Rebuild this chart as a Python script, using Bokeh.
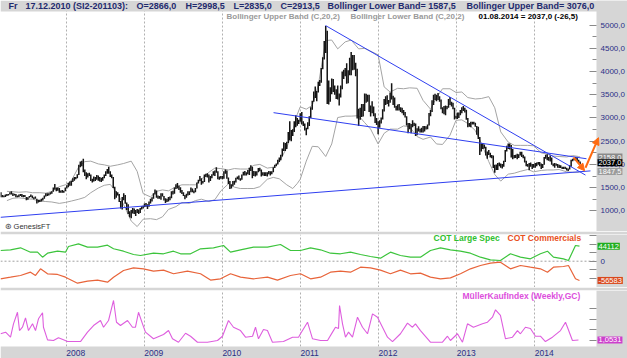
import pandas as pd
from bokeh.plotting import figure
from bokeh.models import Range1d, FixedTicker, Label, Arrow, NormalHead, Grid, Span, BoxAnnotation
from bokeh.layouts import column
from bokeh.embed import file_html
from bokeh.resources import INLINE

# ---------------- data ----------------
WEEK_START = "2007-03-02"   # weekly bars (Fridays)

H07 = [1400,1340,1330,1350,1360, 1360,1400,1420,1380, 1370,1360,1330,1350, 1360,1360,1340,1340,1300,
       1290,1320,1350,1330, 1290,1310,1260,1240,1240, 1260,1280,1330,1380, 1380,1380,1400,1420,
       1500,1580,1500,1500,1490, 1440,1450,1430,1500]
L07 = [1290,1290,1290,1300,1320, 1330,1350,1350,1320, 1330,1290,1290,1300, 1320,1300,1290,1300,1230,
       1240,1280,1300,1270, 1250,1260,1160,1180,1190, 1200,1220,1260,1310, 1320,1330,1350,1370,
       1410,1460,1420,1430,1390, 1390,1390,1390,1420]
H08 = [1550,1600,1630,1650, 1700,1730,1730,1790,1990, 2060,2080,2120,1890, 1830,1810,1820,1780,
       1690,1740,1730,1770,1760, 1730,1710,1730,1780, 1850,1900,1950,1850, 1780,1730,1520,1420,1400,
       1360,1210,1300,1380, 1340,1180,1140,990,1020, 1060,1050,1020,1040, 1030,1060,1100,1110]
L08 = [1480,1510,1540,1540, 1620,1650,1680,1700,1770, 1940,1960,1830,1750, 1680,1720,1750,1640,
       1610,1630,1640,1670,1650, 1630,1620,1650,1700, 1750,1800,1800,1730, 1700,1490,1250,1280,1330,
       1190,1050,1030,1230, 1150,1020,930,860,840, 940,930,890,950, 930,950,1030,1050]
H09 = [1160,1170,1140,1200,1260, 1290,1380,1460,1440, 1330,1320,1380,1380, 1320,1270,1260,1300,
       1310,1420,1430,1500,1570, 1600,1540,1510,1450, 1400,1340,1370,1420,1420, 1500,1480,1440,1490,
       1610,1670,1750,1700, 1640,1780,1800,1810,1780, 1750,1790,1850,1870, 1940,1850,1740,1750]
L09 = [1080,1090,1040,1090,1160, 1200,1260,1350,1280, 1260,1260,1240,1310, 1220,1170,1190,1200,
       1230,1270,1350,1370,1470, 1480,1450,1390,1360, 1320,1250,1280,1330,1340, 1400,1400,1380,1400,
       1480,1590,1640,1560, 1590,1620,1730,1720,1610, 1640,1700,1760,1750, 1820,1680,1670,1690]
H10 = [1750,1850,1890,1870,1720, 1640,1570,1640,1650, 1710,1740,1760,1700, 1780,1840,1860,1830,1880,
       1930,1980,1950,1860, 1850,1850,1920,1930, 1890,1830,1830,1830,1830, 1860,1850,1850,1940,
       1990,2020,2100,2150, 2210,2340,2480,2460,2490, 2700,2930,2740,2760, 2930,3060,2999,2960,3100]
L10 = [1680,1690,1800,1690,1580, 1470,1480,1530,1560, 1610,1680,1670,1650, 1670,1760,1760,1760,1790,
       1770,1860,1700,1750, 1740,1760,1830,1850, 1740,1760,1750,1750,1740, 1790,1760,1790,1830,
       1920,1960,2000,2050, 2090,2170,2290,2290,2330, 2460,2520,2500,2610, 2700,2800,2835,2870,2920]
H11 = [3130,2930,2880,2790, 2910,3040,3230,3370, 3570,3680,3580,3780, 3820,4080,4310,4660,4980,
       4880,3810,3660,3850, 3840,3700,3620,3700, 3530,3700,4000,4040,4080, 4180,4030,4300,4420,
       4360,4360,4190,4060,3200, 3220,3300,3300,3530, 3520,3500,3500,3270, 3360,3250,3100,3000,2930]
L11 = [2860,2830,2730,2630, 2760,2830,3000,3180, 3350,3430,3360,3550, 3690,3760,4050,4260,4400,
       3300,3290,3350,3510, 3560,3500,3410,3400, 3270,3440,3620,3840,3900, 3740,3750,3920,3920,
       4030,4040,3900,2990,2830, 2960,3020,3030,3150, 3330,3350,3130,3030, 3100,3040,2890,2850,2650]
H12 = [2950,3010,3190,3410, 3470,3490,3390,3550, 3750,3480,3440,3260,3290, 3300,3230,3220,3170,
       3130,3040,2890,2890, 2870,2950,2900,2880,2780, 2820,2770,2790,2830, 2830,2820,2860,3110,3180,
       3380,3500,3520,3500, 3540,3470,3400,3230, 3260,3270,3260,3410,3450, 3350,3330,3220,3050]
L12 = [2790,2880,2970,3140, 3280,3300,3250,3330, 3400,3280,3220,3160,3160, 3160,3130,3100,3060,
       3010,2840,2670,2760, 2670,2800,2830,2610,2630, 2710,2690,2690,2690, 2710,2750,2760,2840,3040,
       3130,3280,3390,3360, 3390,3350,3190,3100, 3080,3060,3190,3220,3280, 3250,3190,2970,2990]
H13 = [3120,3120,3170,3230, 3260,3220,3180,3000, 2890,2920,2920,2920,2900, 2830,2810,2590,2450,
       2460,2430,2380,2280,2310, 2250,2200,2190,1990, 2000,2030,2040,2020, 2010,2080,2310,2400,2450,
       2450,2420,2330,2200, 2210,2230,2220,2270, 2270,2210,2170,2080,2010, 2030,2040,2010,2010]
L13 = [2980,3000,3060,3100, 3150,3120,2960,2800, 2810,2800,2860,2860,2810, 2640,2550,2200,2280,
       2330,2340,2190,2120,2200, 2150,2130,1920,1820, 1880,1880,1960,1930, 1910,1950,2050,2280,2330,
       2320,2150,2110,2130, 2140,2110,2140,2190, 2160,2130,2040,1960,1950, 1880,1950,1900,1930]
H14 = [2030,2040,2050,2050,2020, 2010,2160,2210,2220, 2160,2190,2150,2020, 2030,2020,2010,1990,
       1980,1950,1950,1950,1930, 1910,1980,2100,2120, 2140,2160,2160,2100, 2060]
L14 = [1930,1960,1990,1960,1900, 1920,1990,2120,2090, 2080,2060,1990,1960, 1930,1970,1930,1920,
       1920,1900,1900,1900,1870, 1860,1890,1950,2070, 2090,2080,2070,2030, 2010]

HIGH = H07 + H08 + H09 + H10 + H11 + H12 + H13 + H14
LOW = L07 + L08 + L09 + L10 + L11 + L12 + L13 + L14

BB_DATES = ["2007-03-30","2007-04-27","2007-05-25","2007-06-29","2007-07-27","2007-08-31","2007-09-28","2007-10-26","2007-11-30","2007-12-28",
            "2008-01-25","2008-02-29","2008-03-28","2008-04-25","2008-05-30","2008-06-27","2008-07-25","2008-08-29","2008-09-26","2008-10-31","2008-11-28","2008-12-26",
            "2009-01-30","2009-02-27","2009-03-27","2009-04-24","2009-05-29","2009-06-26","2009-07-31","2009-08-28","2009-09-25","2009-10-30","2009-11-27","2009-12-25",
            "2010-01-29","2010-02-26","2010-03-26","2010-04-30","2010-05-28","2010-06-25","2010-07-30","2010-08-27","2010-09-24","2010-10-29","2010-11-26","2010-12-17","2010-12-31",
            "2011-01-28","2011-02-25","2011-03-25","2011-04-29","2011-05-27","2011-06-24","2011-07-29","2011-08-26","2011-09-30","2011-10-28","2011-11-25","2011-12-30",
            "2012-01-27","2012-02-24","2012-03-30","2012-04-27","2012-05-25","2012-06-29","2012-07-27","2012-08-31","2012-09-28","2012-10-26","2012-11-30","2012-12-28",
            "2013-01-25","2013-02-22","2013-03-29","2013-04-26","2013-05-31","2013-06-28","2013-07-26","2013-08-30","2013-09-27","2013-10-25","2013-11-29","2013-12-27",
            "2014-01-31","2014-02-28","2014-03-28","2014-04-25","2014-05-30","2014-06-27","2014-07-25","2014-08-01"]
BB_UPPER = [1420,1410,1400,1410,1390,1390,1380,1420,1520,1560,
            1650,1950,2060,2070,2010,1990,1960,1990,2020,2070,1850,1370,
            1300,1420,1450,1430,1520,1560,1560,1560,1680,1830,1920,1910,
            1880,1910,1900,1900,1980,2000,1920,1940,2050,2360,2720,3076,3240,
            3190,3270,3700,4670,4680,4490,4640,4680,4490,4500,4440,4360,
            3670,3560,3640,3630,3650,3640,3380,3190,3440,3630,3630,3550,
            3560,3440,3410,3420,3460,3220,2700,2480,2410,2410,2410,2400,
            2250,2220,2180,2170,2160,2190,2170,2158]
BB_LOWER = [1220,1270,1280,1260,1250,1210,1200,1190,1160,1180,
            1210,1250,1290,1390,1490,1550,1570,1360,1130,780,660,820,
            830,810,870,1030,1090,1180,1160,1220,1250,1200,1240,1430,
            1580,1510,1480,1480,1480,1520,1680,1720,1690,1560,1480,1588,1680,
            2070,2390,2380,2170,2440,3010,3040,3040,3050,2900,2760,2440,
            2670,2760,2760,2830,2810,2600,2540,2590,2440,2430,2630,2950,
            2960,2880,2730,2460,2060,1780,1640,1790,1810,1850,1890,1840,
            1870,1880,1880,1890,1840,1830,1830,1848]

# trend lines (decimal year, price)
TREND_T0 = [2007.159, 2011.320, 2010.655]
TREND_P0 = [860, 4993, 3115]
TREND_T1 = [2014.713, 2014.649, 2014.662]
TREND_P1 = [1860, 1770, 2122]
# orange forecast arrows
ARROW_T0 = [2014.497, 2014.649]
ARROW_P0 = [2150, 1928]
ARROW_T1 = [2014.638, 2014.816]
ARROW_P1 = [1863, 2576]

PRICE_TICKS = [1000, 1500, 2000, 2500, 3000, 3500, 4000, 4500, 5000]
PRICE_TICK_LABELS = ["1000,0", "1500,0", "2000,0", "2500,0", "3000,0", "3500,0", "4000,0", "4500,0", "5000,0"]
PRICE_BOXES = [("2158,0", 2158, "#8a8a8a"), ("1847,5", 1847.5, "#9c9c9c"), ("2037,0", 2037, "#000000")]
LAST_DATE = 2014.790   # right edge of the data area (decimal year)

SPEC_T = [2007.159,2007.287,2007.415,2007.543,2007.633,2007.697,2007.761,2007.889,2007.991,2008.029,2008.157,
          2008.273,2008.401,2008.529,2008.606,2008.734,2008.862,2008.951,2009.118,2009.246,2009.374,2009.464,
          2009.592,2009.720,2009.886,2010.014,2010.104,2010.232,2010.398,2010.577,2010.744,2010.872,2011.000,
          2011.128,2011.256,2011.384,2011.512,2011.640,2011.768,2011.896,2012.024,2012.152,2012.280,2012.408,
          2012.536,2012.664,2012.792,2012.920,2013.048,2013.176,2013.304,2013.432,2013.560,2013.688,2013.816,
          2013.944,2014.072,2014.162,2014.239,2014.367,2014.431,2014.521,2014.572]
SPEC = [31500,33500,39400,26500,26500,11800,23500,29400,26500,43200,51100,
        41200,41200,47000,36500,29400,19700,16800,23500,21800,29400,21800,
        21800,36500,39400,46200,26500,33500,41200,41200,49100,31500,31500,
        39400,33500,23500,21800,26500,19700,13800,8900,26500,16800,11800,
        11800,31500,39400,33500,29400,23500,11800,4000,2000,21800,11800,
        7000,21800,29400,11800,7000,2000,46200,44112]
COMM_T = [2007.159,2007.287,2007.415,2007.543,2007.607,2007.671,2007.761,2007.889,2007.991,2008.029,2008.145,
          2008.273,2008.401,2008.529,2008.606,2008.734,2008.862,2008.990,2009.118,2009.246,2009.374,2009.553,
          2009.720,2009.848,2009.976,2010.104,2010.232,2010.398,2010.577,2010.705,2010.872,2011.000,2011.128,
          2011.256,2011.384,2011.512,2011.640,2011.768,2011.896,2012.024,2012.152,2012.280,2012.408,2012.536,
          2012.664,2012.792,2012.920,2013.048,2013.176,2013.304,2013.432,2013.560,2013.688,2013.816,2013.944,
          2014.072,2014.162,2014.239,2014.367,2014.431,2014.521,2014.572]
COMM = [-51800,-47000,-42000,-32300,-42000,-22400,-37000,-39000,-47000,-51800,-64700,
        -58800,-55600,-61800,-47000,-27400,-19500,-22400,-29400,-26400,-37000,-29400,
        -37000,-55600,-51800,-37000,-47000,-51800,-47000,-55600,-42000,-37000,-51800,
        -47000,-32300,-29400,-32300,-17600,-19500,-26400,-37000,-26400,-37000,-35000,
        -47000,-51800,-49000,-37000,-22400,-12700,-5900,-3000,-22400,-12700,-17600,
        -22400,-32300,-17600,-15600,-12700,-51800,-56583]
COT_TICKS = [-50000, -25000, 0, 25000, 50000, 75000]
COT_TICK_LABELS = ["", "", "0", "", "", ""]
COT_BOXES = [("44112", 44112, "#1fae1f"), ("-56583", -56583, "#d9481c")]

MKI_T = [2007.159,2007.224,2007.287,2007.325,2007.376,2007.402,2007.440,2007.479,2007.517,2007.569,2007.607,
         2007.645,2007.697,2007.709,2007.761,2007.837,2007.901,2007.965,2008.017,2008.183,2008.273,2008.350,
         2008.439,2008.478,2008.542,2008.606,2008.644,2008.695,2008.785,2008.849,2008.887,2008.926,2008.977,
         2009.015,2009.118,2009.246,2009.310,2009.361,2009.438,2009.528,2009.592,2009.681,2009.809,2009.937,
         2010.001,2010.078,2010.142,2010.232,2010.296,2010.386,2010.424,2010.462,2010.526,2010.577,2010.641,
         2010.782,2010.898,2010.975,2011.000,2011.090,2011.154,2011.256,2011.346,2011.410,2011.448,2011.487,
         2011.500,2011.538,2011.576,2011.615,2011.666,2011.730,2011.794,2011.858,2011.922,2011.986,2012.050,
         2012.114,2012.178,2012.280,2012.370,2012.434,2012.472,2012.536,2012.664,2012.818,2012.882,2012.920,
         2013.010,2013.074,2013.138,2013.214,2013.330,2013.394,2013.458,2013.497,2013.560,2013.625,2013.714,
         2013.778,2013.816,2013.880,2013.944,2014.008,2014.072,2014.136,2014.226,2014.329,2014.393,2014.418,
         2014.482,2014.559]
MKI = [1.63,1.78,1.31,2.56,3.64,1.93,2.24,3.12,1.93,2.56,1.93,
       3.03,3.59,2.24,1.06,1.00,1.25,1.06,0.90,0.90,1.78,2.40,
       2.87,2.24,2.87,4.74,2.71,2.40,2.87,2.24,2.24,3.64,2.56,
       1.78,1.16,1.56,1.93,1.16,0.84,1.68,1.40,0.84,0.84,1.00,
       1.40,2.87,2.24,1.93,1.31,1.40,2.24,1.16,2.02,1.93,0.84,
       0.90,1.31,1.31,1.63,2.71,1.16,1.00,1.00,1.78,2.24,2.12,
       4.27,2.56,1.31,1.78,1.31,3.18,2.24,1.63,3.49,3.18,2.24,
       1.31,0.90,1.63,2.62,2.24,2.56,1.93,0.84,0.84,1.40,1.00,
       1.63,0.84,2.56,2.24,2.56,2.71,3.18,3.87,3.34,1.16,1.31,
       1.93,1.63,2.24,2.12,1.40,1.40,0.90,1.31,1.93,2.71,2.24,
       1.00,1.0531]
MKI_TICKS = [1, 2, 3, 4]
MKI_BOXES = [("1,0531", 1.0531, "#cc3fcc")]

YEARS = [2008, 2009, 2010, 2011, 2012, 2013, 2014]
YEAR_LABELS = ["2008", "2009", "2010", "2011", "2012", "2013", "2014"]

HEADER_TEXTS = ["Fr", "17.12.2010 (SI2-201103):", "O=2866,0", "H=2998,5", "L=2835,0", "C=2913,5",
                "Bollinger Lower Band= 1587,5", "Bollinger Upper Band= 3076,0"]
SUB_TEXTS = ["Bollinger Upper Band (C,20,2)", "Bollinger Lower Band (C,20,2)", "01.08.2014 = 2037,0 (-26,5)"]
COT_NAMES = ["COT Large Spec", "COT Commercials"]
MKI_NAME = "MüllerKaufIndex (Weekly,GC)"
CREDIT = "\u229b GenesisFT"

# ---------------- helpers ----------------
def to_year(dates):
    d = pd.DatetimeIndex(dates)
    return (d.year + (d.dayofyear - 1) / 365.25).to_numpy()

week_t = to_year(pd.date_range(WEEK_START, periods=len(HIGH), freq="W-FRI"))
bb_t = to_year(BB_DATES)

FONT = "Liberation Sans"
GRAY = "#d6d6d6"
NAVY = "#2b2f86"
W = 627
STRIP_X = 596          # screen x where the grey value strip starts
x_range = Range1d(2007.1588, 2015.187)


def make_fig(frame_h, y_range, top):
    p = figure(frame_width=W, frame_height=frame_h, x_range=x_range, y_range=y_range,
               x_axis_location=None, y_axis_location="right",
               toolbar_location=None, output_backend="svg",
               min_border_left=0, min_border_right=0, min_border_top=top, min_border_bottom=0,
               background_fill_color="white", border_fill_color=GRAY, outline_line_color=None)
    p.grid.visible = False
    p.add_layout(Grid(dimension=0, ticker=FixedTicker(ticks=YEARS),
                      grid_line_color="#b0b0b0", grid_line_dash="2 2"))
    ax = p.yaxis[0]
    ax.fixed_location = LAST_DATE
    ax.axis_line_color = None
    ax.major_tick_in = 7
    ax.major_tick_out = 0
    ax.minor_tick_in = 4
    ax.minor_tick_out = 0
    ax.major_tick_line_color = "#8a8a8a"
    ax.minor_tick_line_color = "#8a8a8a"
    ax.major_label_text_font = FONT
    ax.major_label_text_font_size = "8px"
    ax.major_label_text_color = NAVY
    ax.major_label_standoff = 4
    return p


def strip(p, **kw):
    p.add_layout(BoxAnnotation(fill_color=GRAY, fill_alpha=1.0, line_color=None, level="underlay", **kw))


def label(p, text, x, y, color, size="9px", bold=True, xu="screen", yu="screen", bg=None):
    kw = dict(x=x, y=y, x_units=xu, y_units=yu, text=text,
              text_font=FONT, text_font_size=size, text_color=color,
              text_font_style="bold" if bold else "normal",
              text_align="left", text_baseline="middle")
    if bg is not None:
        kw.update(background_fill_color=bg, background_fill_alpha=1.0, padding=1)
    p.add_layout(Label(**kw))


# ---------------- price panel ----------------
P_FH = 231
p1 = make_fig(P_FH, Range1d(554, 5532), 0)
ax1 = p1.yaxis[0]
ax1.ticker = FixedTicker(ticks=PRICE_TICKS, minor_ticks=[t + 250 for t in PRICE_TICKS[:-1]])
ax1.major_label_overrides = dict(zip(PRICE_TICKS, PRICE_TICK_LABELS))
strip(p1, left=STRIP_X, left_units="screen")
strip(p1, bottom=P_FH - 11, bottom_units="screen")

p1.line(bb_t, BB_UPPER, line_color="#a4a4a4", line_width=1)
p1.line(bb_t, BB_LOWER, line_color="#a4a4a4", line_width=1)
p1.segment(x0=week_t, y0=LOW, x1=week_t, y1=HIGH, line_color="#151515", line_width=1.5)
p1.segment(x0=TREND_T0, y0=TREND_P0, x1=TREND_T1, y1=TREND_P1, line_color="#2f3ff0", line_width=1)
for i in range(len(ARROW_T0)):
    p1.add_layout(Arrow(x_start=ARROW_T0[i], y_start=ARROW_P0[i], x_end=ARROW_T1[i], y_end=ARROW_P1[i],
                        line_color="#ff6a10", line_width=2,
                        end=NormalHead(size=7, fill_color="#ff6a10", line_color="#ff6a10")))

hx = [8, 25, 136, 185, 233, 280, 327, 466]
for t, x in zip(HEADER_TEXTS, hx):
    label(p1, t, x, P_FH - 5.5, "#1f2a6e", size="9px")
sx = [226, 350, 478]
scol = ["#9a9a9a", "#9a9a9a", "#000000"]
for t, x, c in zip(SUB_TEXTS, sx, scol):
    label(p1, t, x, P_FH - 16, c, size="8px")
label(p1, CREDIT, 4, 5, "#333333", size="7.5px", bold=False)
for t, v, c in PRICE_BOXES:
    label(p1, t, STRIP_X + 1, v, "white", size="7.5px", bold=False, yu="data", bg=c)

# ---------------- COT panel ----------------
C_FH = 53
p2 = make_fig(C_FH, Range1d(-77350, 78500), 3)
ax2 = p2.yaxis[0]
ax2.ticker = FixedTicker(ticks=COT_TICKS)
ax2.major_label_overrides = dict(zip(COT_TICKS, COT_TICK_LABELS))
p2.add_layout(Span(location=0, dimension="width", line_color="#a0a0a0", line_dash="2 2",
                   line_width=1, level="underlay"))
strip(p2, left=STRIP_X, left_units="screen")
p2.line(SPEC_T, SPEC, line_color="#3cc43c", line_width=1.2)
p2.line(COMM_T, COMM, line_color="#e8643a", line_width=1.2)
label(p2, COT_NAMES[0], 433, C_FH - 3.5, "#2fbf2f", size="8.5px")
label(p2, COT_NAMES[1], 507, C_FH - 3.5, "#e8501e", size="8.5px")
for t, v, c in COT_BOXES:
    label(p2, t, STRIP_X + 1, v, "white", size="7.5px", bold=False, yu="data", bg=c)

# ---------------- MKI panel ----------------
M_FH = 68
p3 = make_fig(M_FH, Range1d(-0.682, 5.673), 3)
ax3 = p3.yaxis[0]
ax3.ticker = FixedTicker(ticks=MKI_TICKS)
ax3.major_label_overrides = {t: "" for t in MKI_TICKS}
strip(p3, left=STRIP_X, left_units="screen")
strip(p3, top=12, top_units="screen")
p3.line(MKI_T, MKI, line_color="#de5ede", line_width=1.1)
label(p3, MKI_NAME, 462, M_FH - 5, "#dd4fdd", size="8.5px")
for t, v, c in MKI_BOXES:
    label(p3, t, STRIP_X + 1, v, "white", size="7.5px", bold=False, yu="data", bg=c)
for yr, t in zip(YEARS, YEAR_LABELS):
    label(p3, t, yr, 6, NAVY, size="8.5px", bold=False, xu="data")

layout = column(p1, p2, p3, spacing=0)
open("out.html", "w").write(file_html(layout, INLINE))
